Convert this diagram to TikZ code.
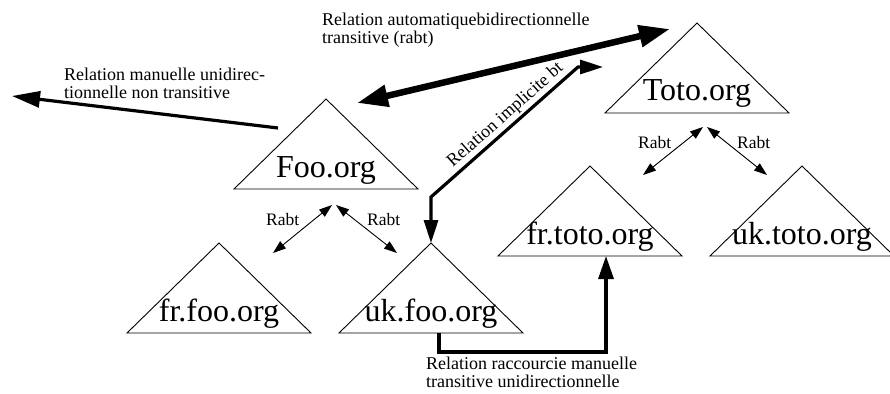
\documentclass[tikz,border=0pt]{standalone}
\usepackage{fontspec}
\setmainfont{Liberation Serif}
\usetikzlibrary{arrows.meta,calc}

% A domain: an outlined triangle with its name set near the base
\newcommand\drawdomain[4]{%
  \path (#2,#3) coordinate (#1-top) ++(-92,90) coordinate (#1-bl) ++(184,0) coordinate (#1-br);
  \draw[tri] (#1-top) -- (#1-bl) -- (#1-br) -- cycle;
  \node[domname] (#1) at ($(#1-top)+(0,78)$) {#4};
}

\begin{document}
\begin{tikzpicture}[x=1pt,y=-1pt,
  tri/.style={draw, line width=0.9pt, line join=miter},
  domname/.style={font=\fontsize{32}{32}\selectfont, inner sep=0pt, anchor=base},
  lbl/.style={font=\fontsize{18}{18}\selectfont, inner sep=0pt, align=left, anchor=north west},
  rabtlbl/.style={font=\fontsize{17.5}{18}\selectfont, inner sep=0pt, anchor=base west},
  rabt/.style={line width=0.9pt, {Triangle[length=13pt 0 0,width=9pt 0 0]}-{Triangle[length=13pt 0 0,width=9pt 0 0]}},
  oneway/.style={line width=3.2pt, -{Triangle[length=23pt 0 0,width=15pt 0 0]}},
  bigoneway/.style={line width=3.2pt, -{Triangle[length=28pt 0 0,width=16pt 0 0]}},
  twoway/.style={line width=3.2pt, {Triangle[length=23pt 0 0,width=14pt 0 0]}-{Triangle[length=23pt 0 0,width=14pt 0 0]}},
  auto/.style={line width=6.5pt, {Triangle[length=31pt 0 0,width=21pt 0 0]}-{Triangle[length=31pt 0 0,width=21pt 0 0]}},
]
\useasboundingbox (0,0) rectangle (890,393);

% domains
\drawdomain{toto}{697}{23}{Toto.org}
\drawdomain{foo}{326}{99}{Foo.org}
\drawdomain{frfoo}{219}{243}{fr.foo.org}
\drawdomain{ukfoo}{431}{243}{uk.foo.org}
\drawdomain{frtoto}{590}{166}{fr.toto.org}
\drawdomain{uktoto}{802}{166}{uk.toto.org}

% end points of the relations
\coordinate (man-a) at (278,128);
\coordinate (man-b) at (12,96);
\coordinate (auto-a) at (357,103);
\coordinate (auto-b) at (670,29);
\coordinate (imp-a) at (431,197);
\coordinate (imp-b) at (578,67);
\coordinate (imp-c) at (603,67);
\coordinate (rac-a) at (439,333);
\coordinate (rac-b) at (439,352);
\coordinate (rac-c) at (606,352);
\coordinate (rac-d) at (606,256);

% Rabt links
\coordinate (fooR) at (332,205);
\coordinate (fooS) at (336,205);
\coordinate (frfooR) at (273,253);
\coordinate (ukfooR) at (397,253);
\coordinate (totoR) at (703,127);
\coordinate (totoS) at (707,127);
\coordinate (frtotoR) at (643,175);
\coordinate (uktotoR) at (767,175);

\draw[rabt] (fooR) -- (frfooR);
\draw[rabt] (fooS) -- (ukfooR);
\draw[rabt] (totoR) -- (frtotoR);
\draw[rabt] (totoS) -- (uktotoR);
\node[rabtlbl] (rabt1) at (266,225) {Rabt};
\node[rabtlbl] (rabt2) at (367,225) {Rabt};
\node[rabtlbl] (rabt3) at (638,148) {Rabt};
\node[rabtlbl] (rabt4) at (737,148) {Rabt};

% manual one-way relation
\draw[bigoneway] (man-a) -- (man-b);
\node[lbl] (manlbl) at (64,67.5) {Relation manuelle unidirec-\\tionnelle non transitive};

% automatic two-way relation
\draw[auto] (auto-a) -- (auto-b);
\node[lbl] (autolbl) at (322,12.5) {Relation automatiquebidirectionnelle\\transitive (rabt)};

% implicit relation
\draw[twoway] (ukfoo-top) -- (imp-a) -- node[sloped, above=2pt, pos=0.56, font=\fontsize{18}{18}\selectfont, inner sep=0pt] (implbl) {Relation implicite bt} (imp-b) -- (imp-c);

% shortcut relation
\draw[oneway] (rac-a) -- (rac-b) -- (rac-c) -- (rac-d);
\node[lbl] (raclbl) at (426,356.5) {Relation raccourcie manuelle\\transitive unidirectionnelle};
\end{tikzpicture}
\end{document}
